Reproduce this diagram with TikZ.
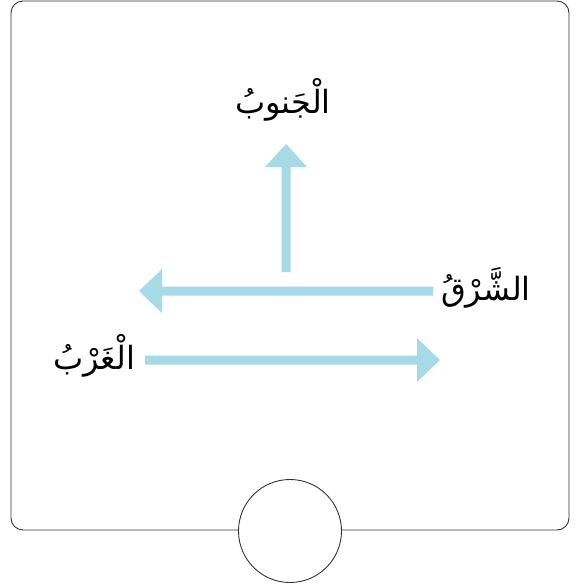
\documentclass[tikz,border=0pt]{standalone}
\usepackage{fontspec}
\newfontfamily\arabicfont[Script=Arabic]{DejaVu Sans}
\TeXXeTstate=1
\definecolor{arrowblue}{RGB}{166,218,230}
\begin{document}
\begin{tikzpicture}[x=1pt,y=-1pt,
  lbl/.style={font=\arabicfont\fontsize{32}{38}\selectfont, inner sep=0pt},
  bluearrow/.style={draw=none, fill=arrowblue}]
\useasboundingbox (0,0) rectangle (578,587);
\draw[line width=0.9pt, draw=black!80, rounded corners=12pt, fill=white] (11,1) rectangle (569,530);
\node[circle, draw=black!80, line width=0.9pt, fill=white, minimum size=103pt, inner sep=0pt] (dial) at (290,531) {};
% up arrow
\fill[arrowblue] (281.5,272) -- (281.5,167) -- (265,167) -- (286,144) -- (307,167) -- (290.5,167) -- (290.5,272) -- cycle;
% left arrow
\fill[arrowblue] (433,286.5) -- (162,286.5) -- (162,269) -- (139,291) -- (162,313) -- (162,295.5) -- (433,295.5) -- cycle;
% right arrow
\fill[arrowblue] (145,355.5) -- (417,355.5) -- (417,338) -- (440,360) -- (417,382) -- (417,364.5) -- (145,364.5) -- cycle;
\node[lbl] (south) at (283,100) {\beginR الْجَنوبُ\endR};
\node[lbl] (east) at (486,288) {\beginR الشَّرْقُ\endR};
\node[lbl] (west) at (94,356) {\beginR الْغَرْبُ\endR};
\end{tikzpicture}
\end{document}
